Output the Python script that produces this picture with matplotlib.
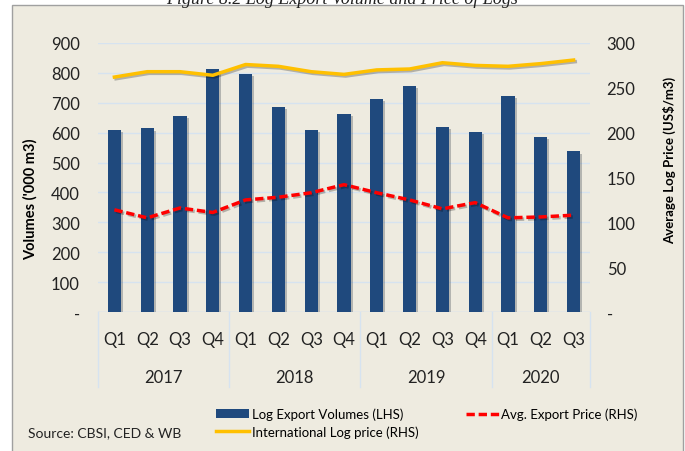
import matplotlib

matplotlib.use("Agg")

import matplotlib.pyplot as plt
import matplotlib.patheffects as pe
from matplotlib.patches import Rectangle
from matplotlib.lines import Line2D

years = ["2017", "2018", "2019", "2020"]
quarters = ["Q1", "Q2", "Q3", "Q4", "Q1", "Q2", "Q3", "Q4",
            "Q1", "Q2", "Q3", "Q4", "Q1", "Q2", "Q3"]
volumes = [608, 614, 655, 812, 795, 687, 608, 662,
           712, 756, 618, 603, 722, 587, 537]
avg_price = [114, 105, 116, 111, 125, 128, 133, 142,
             133, 125, 115, 122, 105, 106, 108]
intl_price = [262, 268, 268, 264, 276, 274, 268, 265,
              270, 271, 278, 275, 274, 277, 281]

BG = "#EEEBE0"
BLUE = "#1F497D"
RED = "#FF0000"
GOLD = "#FFC000"
GRID = "#D6E3F0"
FONT = "Lato"

plt.rcParams["font.family"] = [FONT, "DejaVu Sans"]

fig = plt.figure(figsize=(6.85, 4.52), dpi=100)
fig.patch.set_facecolor("white")

# beige chart panel with grey frame
W, H = 685, 452
panel = Rectangle((12 / W, -0.01), 671 / W, 1 - 6 / H + 0.01, transform=fig.transFigure,
                  facecolor=BG, edgecolor="#A0A0A0", linewidth=1.0, zorder=-10)
fig.patches.append(panel)

# cut-off caption above the panel (only its lower part is visible, as in the source)
fig.text(0.5, 1 + 1 / H, "Figure 8.2 Log Export Volume and Price of Logs",
         ha="center", va="center", fontsize=13, style="italic",
         family="Liberation Serif", color="#222222")

left, right, top, bottom = 98 / W, 590 / W, 44 / H, 313 / H
ax = fig.add_axes([left, 1 - bottom, right - left, bottom - top])
ax.set_facecolor("none")
ax2 = ax.twinx()

n = len(volumes)
xs = list(range(n))
shadow = [pe.SimplePatchShadow(offset=(1.5, -1.5), alpha=0.25), pe.Normal()]
ax.bar(xs, volumes, width=0.4, color=BLUE, zorder=3, path_effects=shadow)
ax.set_ylim(0, 900)
ax.set_xlim(-0.5, n - 0.5)
ax.set_yticks(range(0, 1000, 100))
ax.set_yticklabels(["-"] + [str(v) for v in range(100, 1000, 100)])
ax.yaxis.grid(True, color=GRID, linewidth=1.0, zorder=0)
ax.set_axisbelow(True)
ax.tick_params(axis="y", length=0, pad=13, labelsize=12, colors="#222222")
ax.set_xticks([])
for s in ax.spines.values():
    s.set_visible(False)
ax.axhline(0, color=GRID, linewidth=1.0, zorder=1)
ax.set_ylabel("Volumes ('000 m3)", fontsize=10.5, fontweight="bold")
ax.yaxis.set_label_coords((38 - 98) / 492, (313 - 199) / 269)

line_shadow = [pe.SimpleLineShadow(offset=(1.2, -1.2), alpha=0.25), pe.Normal()]
ax2.plot(xs, intl_price, color=GOLD, linewidth=2.5, zorder=4, path_effects=line_shadow)
ax2.plot(xs, avg_price, color=RED, linewidth=2.5, linestyle=(0, (2.4, 1.1)), zorder=5,
         path_effects=line_shadow)
ax2.set_ylim(0, 300)
ax2.set_yticks(range(0, 350, 50))
ax2.set_yticklabels(["-"] + [str(v) for v in range(50, 350, 50)])
ax2.tick_params(axis="y", length=0, pad=12, labelsize=12, colors="#222222")
for s in ax2.spines.values():
    s.set_visible(False)
ax2.set_ylabel("Average Log Price (US$/m3)", fontsize=9.5, fontweight="bold")
ax2.yaxis.set_label_coords((663 - 98) / 492, (313 - 160) / 269)

# two-level category axis
trans = ax.get_xaxis_transform()
q_y = -(340 - 313) / (313 - 44)
y_y = -(378 - 313) / (313 - 44)
sep_bottom = -(388 - 313) / (313 - 44)
for i, q in enumerate(quarters):
    ax.text(i, q_y, q, transform=trans, ha="center", va="center", fontsize=12,
            color="#222222")
for k, yr in enumerate(years):
    start = 4 * k
    end = min(start + 4, n)
    ax.text((start + end - 1) / 2, y_y, yr, transform=trans, ha="center", va="center",
            fontsize=12, color="#222222")
for b in [-0.5, 3.5, 7.5, 11.5, n - 0.5]:
    ax.add_line(Line2D([b, b], [0, sep_bottom], transform=trans, color=GRID,
                       linewidth=1.0, clip_on=False))

handles = [
    Rectangle((0, 0), 1, 1, facecolor=BLUE),
    Line2D([], [], color=GOLD, linewidth=2.5),
    Line2D([], [], color=RED, linewidth=2.5, linestyle=(0, (2.4, 1.1))),
]
labels = ["Log Export Volumes (LHS)", "International Log price (RHS)",
          "Avg. Export Price (RHS)"]
fig.legend(handles, labels, ncol=2, loc="upper left", bbox_to_anchor=(204 / W, 1 - 397 / H),
           frameon=False, fontsize=9.5, handlelength=2.5, handletextpad=0.2,
           columnspacing=3.6, labelspacing=0.35)

fig.text(28 / W, 1 - 433 / H, "Source: CBSI, CED & WB", fontsize=10, va="center",
         color="#222222")

fig.savefig("out.png", dpi=100, facecolor=fig.get_facecolor())
plt.close(fig)
